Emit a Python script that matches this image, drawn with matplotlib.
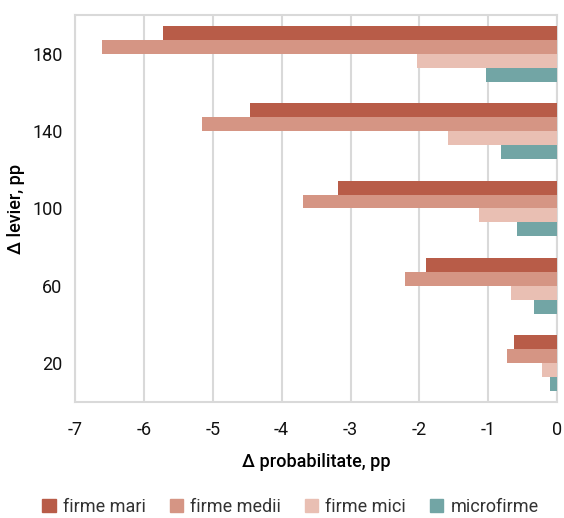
import numpy as np
import matplotlib.pyplot as plt
from matplotlib.patches import Patch

plt.rcParams['font.family'] = ['Roboto', 'DejaVu Sans']

# leverage shocks (pp) and change in default probability (pp) by firm size
levier = ['20', '60', '100', '140', '180']
serii = ['firme mari', 'firme medii', 'firme mici', 'microfirme']
mari = [-0.63, -1.90, -3.18, -4.46, -5.73]
medii = [-0.73, -2.21, -3.69, -5.16, -6.61]
mici = [-0.22, -0.67, -1.13, -1.58, -2.03]
micro = [-0.11, -0.34, -0.58, -0.81, -1.04]
culori = ['#b85c48', '#d59584', '#e9bfb3', '#72a5a5']

fig = plt.figure(figsize=(5.64, 5.18), dpi=100)
ax = fig.add_axes([0.133, 0.224, 0.855, 0.747])

y = np.arange(len(levier))
h = 0.18
for i, vals in enumerate([mari, medii, mici, micro]):
    ax.barh(y + (1.5 - i) * h, vals, height=h, color=culori[i], zorder=3)

ax.set_xlim(-7, 0)
ax.set_ylim(-0.5, 4.5)
ax.set_xticks(range(-7, 1))
ax.set_xticklabels([str(v) for v in range(-7, 1)])
ax.set_yticks(y)
ax.set_yticklabels(levier)
ax.tick_params(length=0, labelsize=13, pad=14, labelcolor='#111111')
ax.tick_params(axis='y', pad=9)
ax.grid(axis='x', color='#d9d9d9', lw=1.5, zorder=0)
for s in ax.spines.values():
    s.set_color('#d9d9d9')
    s.set_linewidth(1.5)

ax.set_xlabel('Δ probabilitate, pp', fontsize=13, fontweight='medium', labelpad=10)
ax.set_ylabel('Δ levier, pp', fontsize=13, fontweight='medium', labelpad=5)

handles = [Patch(color=c, label=n) for c, n in zip(culori, serii)]
fig.legend(handles=handles, loc='center', bbox_to_anchor=(0.515, 0.022),
           ncol=4, frameon=False, fontsize=13, handlelength=0.75,
           handleheight=0.75, handletextpad=0.4, columnspacing=1.3,
           labelcolor='#333333', borderpad=0)

fig.savefig('out.png', dpi=100)
